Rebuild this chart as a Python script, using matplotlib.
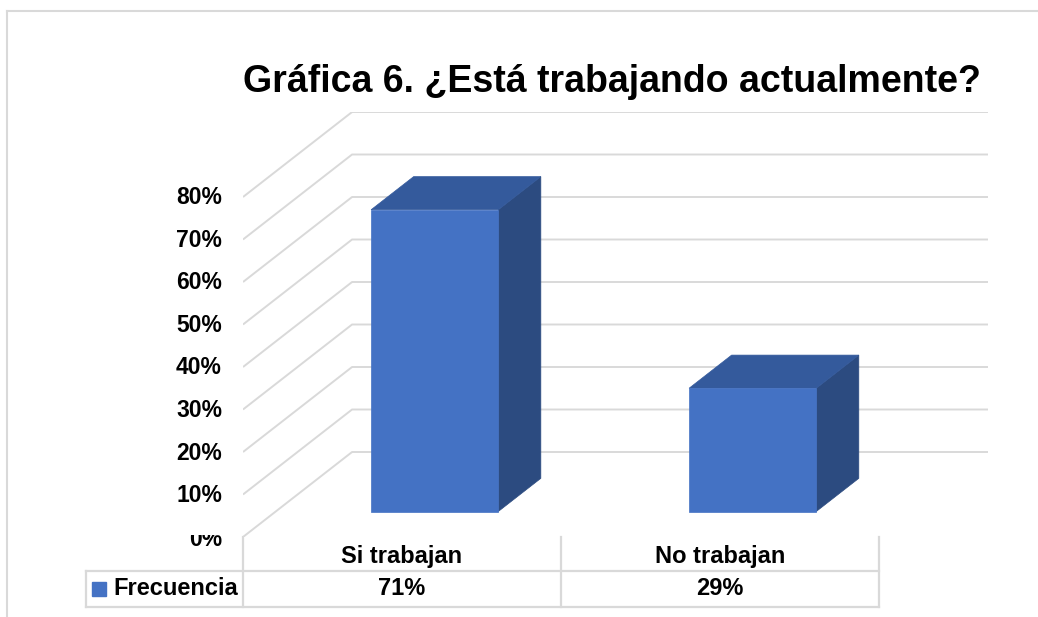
import matplotlib
matplotlib.use("Agg")
import matplotlib.pyplot as plt
from matplotlib.patches import Polygon
from matplotlib.lines import Line2D
from matplotlib.transforms import offset_copy, Bbox

# ---- data ----
categories = ["Si trabajan", "No trabajan"]
values = [71, 29]                     # percent
value_labels = ["71%", "29%"]
series_name = "Frecuencia"
y_ticks = [0, 10, 20, 30, 40, 50, 60, 70, 80]
y_tick_labels = ["0%", "10%", "20%", "30%", "40%", "50%", "60%", "70%", "80%"]
title = "Gráfica 6. ¿Está trabajando actualmente?"

# ---- style ----
plt.rcParams['font.family'] = ['Liberation Sans', 'DejaVu Sans']
FRONT = "#4472C4"
TOP = "#345A9C"
SIDE = "#2C4B80"
GRID = "#D9D9D9"

W, H = 1038, 617
fig = plt.figure(figsize=(W / 100, H / 100), dpi=100)

# depth of the 3D box in data units
DX = 0.343      # category units
DY = 20.0       # percent units
YMAX = 80
xmin, xmax = -0.5, len(categories) - 0.5

# axes placed so that front plane spans the category range
px_left, px_right, px_top, px_bottom = 243, 988, 112, 537
ax = fig.add_axes([px_left / W, (H - px_bottom) / H,
                   (px_right - px_left) / W, (px_bottom - px_top) / H])
ax.set_xlim(xmin, xmax + DX)
ax.set_ylim(0, YMAX + DY)
ax.axis("off")

# gridlines: floor-side diagonal + back wall horizontal
for v in y_ticks:
    ax.plot([xmin, xmin + DX, xmax + DX], [v, v + DY, v + DY],
            color=GRID, lw=1.4, solid_capstyle="butt", zorder=1)

# y tick labels
for v, lab in zip(y_ticks, y_tick_labels):
    dy = -3 if v == 0 else -1
    tr = offset_copy(ax.transData, fig=fig, x=-21, y=dy, units="dots")
    t = ax.text(xmin, v, lab, transform=tr, ha="right", va="center",
                fontsize=16.5, fontweight="bold", color="black", clip_on=False)
    if v == 0:
        t.set_clip_box(Bbox([[0, 0], [W, H - 535]]))
        t.set_clip_on(True)

# bars (3D-look)
bw = 0.2          # half width
f0, f1 = 0.30, 0.69   # depth fractions of bar front/back
for i, v in enumerate(values):
    dx0, dy0 = f0 * DX, f0 * DY
    dx1, dy1 = f1 * DX, f1 * DY
    xl, xr = i - bw, i + bw
    side = Polygon([(xr + dx0, dy0), (xr + dx1, dy1), (xr + dx1, v + dy1), (xr + dx0, v + dy0)],
                   closed=True, facecolor=SIDE, edgecolor=SIDE, lw=0.5, zorder=3)
    top = Polygon([(xl + dx0, v + dy0), (xr + dx0, v + dy0), (xr + dx1, v + dy1), (xl + dx1, v + dy1)],
                  closed=True, facecolor=TOP, edgecolor=TOP, lw=0.5, zorder=3)
    front = Polygon([(xl + dx0, dy0), (xr + dx0, dy0), (xr + dx0, v + dy0), (xl + dx0, v + dy0)],
                    closed=True, facecolor=FRONT, edgecolor=FRONT, lw=0.5, zorder=4)
    for p in (side, top, front):
        ax.add_patch(p)

# data table
row1, row2 = -8.0, -16.5
tab_left = -0.994
lk = dict(color=GRID, lw=1.6, clip_on=False, zorder=2, solid_capstyle="projecting")
for xb in [xmin + k for k in range(len(categories) + 1)]:
    ax.plot([xb, xb], [0, row2], **lk)
ax.plot([tab_left, xmax], [row1, row1], **lk)
ax.plot([tab_left, xmax], [row2, row2], **lk)
ax.plot([tab_left, tab_left], [row1, row2], **lk)

for i, (c, vl) in enumerate(zip(categories, value_labels)):
    ax.text(i, row1 / 2 - 0.5, c, ha="center", va="center", fontsize=17,
            fontweight="bold", clip_on=False)
    ax.text(i, (row1 + row2) / 2 + 0.1, vl, ha="center", va="center", fontsize=17,
            fontweight="bold", clip_on=False)

ax.plot([-0.954], [(row1 + row2) / 2 + 0.1], marker="s", markersize=9.4,
        color=FRONT, clip_on=False, lw=0)
ax.text(-0.909, (row1 + row2) / 2 + 0.1, series_name, ha="left", va="center",
        fontsize=17, fontweight="bold", clip_on=False)

# title
fig.text(611.5 / W, (H - 92) / H, title, ha="center", va="baseline",
         fontsize=27, fontweight="bold", color="black")

# outer chart frame
fig.add_artist(Line2D([7 / W, 1.0], [(H - 11) / H, (H - 11) / H], color=GRID, lw=1.5))
fig.add_artist(Line2D([7 / W, 7 / W], [0, (H - 11) / H], color=GRID, lw=1.5))

fig.savefig("out.png", dpi=100, facecolor="white")
